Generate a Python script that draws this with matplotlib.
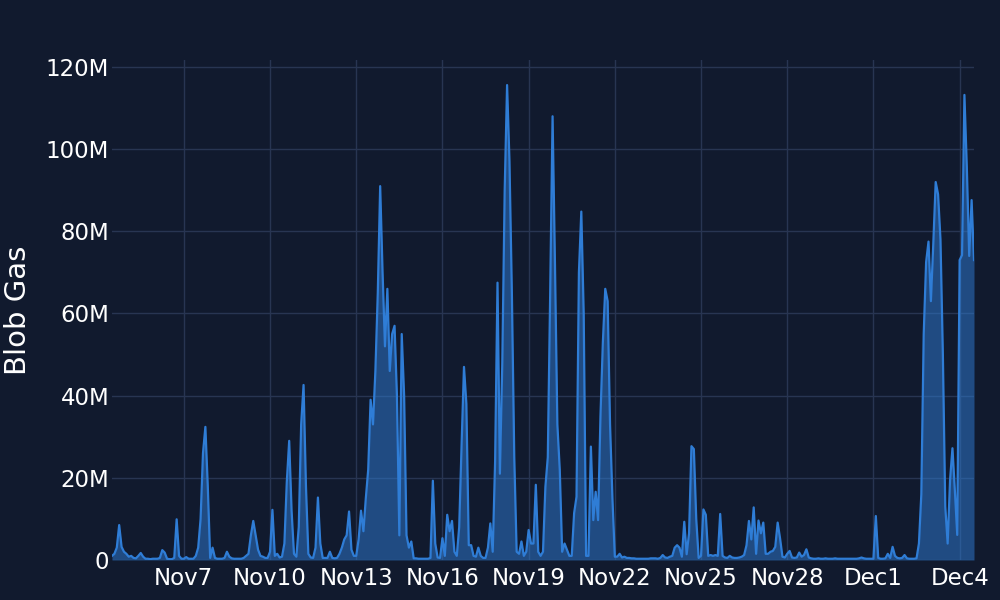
import pandas as pd
import matplotlib
matplotlib.use("Agg")
import matplotlib.pyplot as plt
from matplotlib.ticker import FuncFormatter

# blob gas per 2h bucket, in millions
nov04 = [1.0, 1.5, 3.0, 8.5, 3.2, 2.0]  # from 12:00
nov05 = [1.5, 0.8, 1.0, 0.5, 0.4, 1.0, 1.7, 0.8, 0.3, 0.3, 0.2, 0.3]
nov06 = [0.3, 0.3, 0.5, 2.4, 1.8, 0.3, 0.2, 0.2, 0.5, 9.9, 1.0, 0.3]
nov07 = [0.3, 0.7, 0.3, 0.3, 0.3, 1.0, 3.0, 10.0, 26.0, 32.4, 18.0, 0.5]
nov08 = [3.0, 0.5, 0.3, 0.3, 0.3, 0.5, 2.0, 0.8, 0.4, 0.3, 0.3, 0.3]
nov09 = [0.3, 0.5, 1.0, 1.5, 6.0, 9.5, 6.0, 2.5, 1.0, 0.8, 0.5, 0.5]
nov10 = [2.0, 12.2, 1.0, 1.5, 0.6, 0.8, 4.0, 19.0, 29.0, 12.0, 1.5, 0.8]
nov11 = [8.0, 33.0, 42.6, 18.0, 1.5, 0.6, 0.5, 3.0, 15.2, 4.0, 0.5, 0.5]
nov12 = [0.5, 2.0, 0.5, 0.4, 0.5, 1.5, 3.0, 5.0, 6.0, 11.8, 2.5, 1.0]
nov13 = [1.0, 5.0, 12.0, 7.0, 15.0, 22.0, 39.0, 33.0, 46.0, 65.0, 91.0, 70.0]
nov14 = [52.0, 66.0, 46.0, 55.0, 57.0, 40.0, 6.0, 55.0, 40.0, 6.0, 3.0, 4.5]
nov15 = [0.4, 0.4, 0.3, 0.3, 0.3, 0.3, 0.3, 0.5, 19.3, 4.0, 0.6, 0.5]
nov16 = [5.3, 1.0, 11.0, 7.0, 9.5, 2.0, 1.0, 8.0, 28.0, 47.0, 38.0, 3.6]
nov17 = [3.6, 1.0, 0.8, 3.0, 1.0, 0.5, 0.5, 3.0, 8.9, 2.0, 24.0, 67.5]
nov18 = [21.0, 48.0, 90.0, 115.6, 97.0, 65.0, 25.0, 2.0, 1.5, 4.5, 1.0, 2.0]
nov19 = [7.3, 4.0, 4.0, 18.3, 2.0, 1.0, 2.0, 17.8, 25.0, 65.0, 108.0, 72.0]
nov20 = [33.0, 22.0, 2.0, 4.0, 2.5, 1.0, 1.0, 11.4, 15.4, 70.0, 84.8, 60.0]
nov21 = [1.0, 1.0, 27.6, 9.7, 16.6, 9.7, 35.0, 53.0, 66.0, 63.0, 33.0, 15.0]
nov22 = [0.8, 0.8, 1.5, 0.6, 0.8, 0.5, 0.5, 0.4, 0.4, 0.3, 0.3, 0.3]
nov23 = [0.3, 0.3, 0.3, 0.4, 0.4, 0.4, 0.3, 0.5, 1.2, 0.6, 0.5, 0.8]
nov24 = [1.0, 3.0, 3.6, 3.0, 0.8, 9.3, 1.4, 6.5, 27.7, 27.0, 10.0, 0.5]
nov25 = [1.0, 12.3, 11.0, 1.0, 1.2, 1.0, 1.2, 1.0, 11.2, 1.0, 0.6, 0.5]
nov26 = [1.0, 0.6, 0.5, 0.5, 0.6, 0.8, 1.2, 3.6, 9.5, 5.0, 12.8, 1.5]
nov27 = [9.6, 6.5, 9.1, 1.5, 1.5, 2.0, 2.2, 3.2, 9.1, 5.3, 0.8, 0.6]
nov28 = [1.5, 2.2, 0.6, 0.5, 0.6, 1.8, 0.8, 1.2, 2.6, 0.6, 0.4, 0.3]
nov29 = [0.3, 0.4, 0.3, 0.3, 0.4, 0.3, 0.3, 0.3, 0.4, 0.3, 0.3, 0.3]
nov30 = [0.3, 0.3, 0.3, 0.3, 0.3, 0.3, 0.4, 0.6, 0.4, 0.3, 0.3, 0.3]
dec01 = [0.3, 10.7, 0.5, 0.3, 0.3, 0.4, 1.5, 0.5, 3.2, 1.0, 0.5, 0.4]
dec02 = [0.5, 1.2, 0.4, 0.3, 0.3, 0.3, 0.4, 4.0, 16.0, 55.0, 72.5, 77.5]
dec03 = [63.0, 77.0, 92.0, 89.0, 78.0, 50.0, 13.0, 4.0, 19.5, 27.2, 17.0, 6.1]
dec04 = [73.0, 74.2, 113.2, 95.7, 74.0, 87.6, 73.0]  # until 12:00

days = [nov04, nov05, nov06, nov07, nov08, nov09, nov10, nov11, nov12, nov13,
        nov14, nov15, nov16, nov17, nov18, nov19, nov20, nov21, nov22, nov23,
        nov24, nov25, nov26, nov27, nov28, nov29, nov30, dec01, dec02, dec03, dec04]
blob_gas = [v * 1e6 for d in days for v in d]
times = pd.date_range("2024-11-04 12:00", periods=len(blob_gas), freq="2h")

tick_dates = pd.to_datetime(["2024-11-07", "2024-11-10", "2024-11-13", "2024-11-16",
                             "2024-11-19", "2024-11-22", "2024-11-25", "2024-11-28",
                             "2024-12-01", "2024-12-04"])
tick_labels = ["Nov7", "Nov10", "Nov13", "Nov16", "Nov19", "Nov22",
               "Nov25", "Nov28", "Dec1", "Dec4"]
y_ticks = [0, 20e6, 40e6, 60e6, 80e6, 100e6, 120e6]

bg = "#111a2e"
grid = "#283552"
line = "#2f7dd6"

fig = plt.figure(figsize=(10, 6), dpi=100, facecolor=bg)
ax = fig.add_axes([0.112, 0.0667, 0.862, 0.8333], facecolor=bg)

ax.fill_between(times, blob_gas, 0, color=line, alpha=0.5, linewidth=0)
ax.plot(times, blob_gas, color=line, linewidth=1.6)

ax.set_xlim(times[0], times[-1])
ax.set_ylim(0, 121.7e6)
ax.set_xticks(tick_dates)
ax.set_xticklabels(tick_labels)
ax.set_yticks(y_ticks)
ax.yaxis.set_major_formatter(FuncFormatter(lambda v, p: "0" if v == 0 else f"{v/1e6:.0f}M"))

ax.grid(True, color=grid, linewidth=1)
ax.set_axisbelow(True)
for s in ax.spines.values():
    s.set_visible(False)
ax.tick_params(colors="white", labelsize=16.5, length=0)
ax.tick_params(axis="y", pad=2)
ax.tick_params(axis="x", pad=5)
ax.set_ylabel("Blob Gas", color="white", fontsize=21)
ax.yaxis.set_label_coords(-0.093, 0.5)

fig.savefig("out.png", facecolor=bg)
